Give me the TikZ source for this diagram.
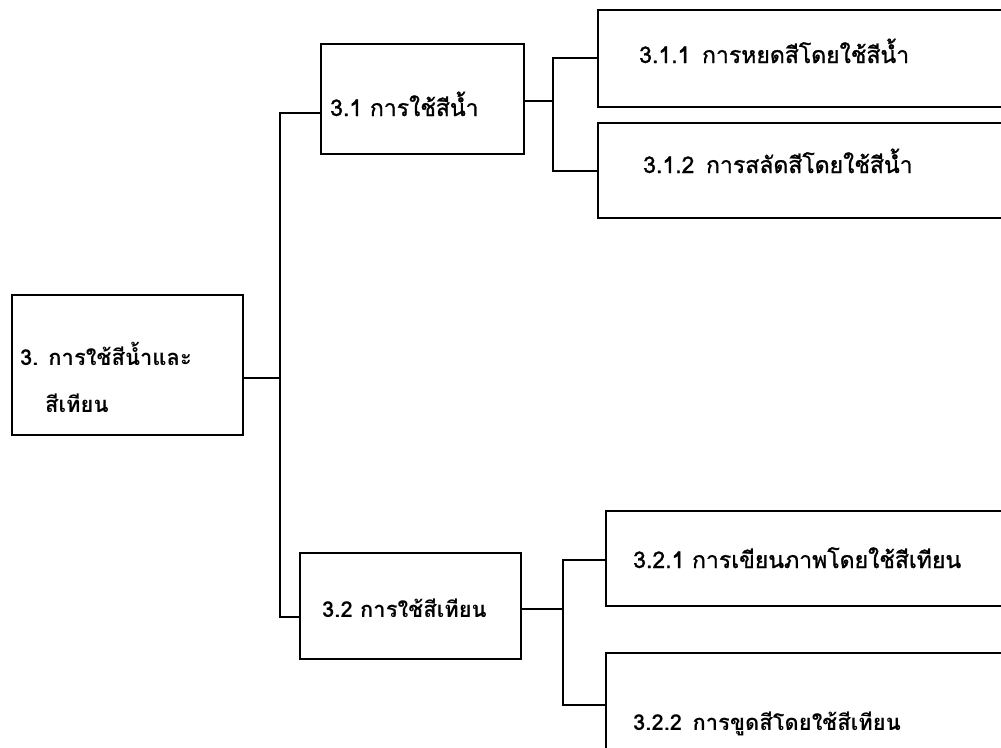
\documentclass[tikz,border=0pt]{standalone}
\usepackage{fontspec}
\setmainfont[Script=Thai]{Loma}
\newfontfamily\medfont[Script=Thai, FakeBold=1.2]{Loma}
\usetikzlibrary{positioning}

\begin{document}
\begin{tikzpicture}[
  x=1pt, y=-1pt,
  every node/.style={font=\fontsize{23}{27}\selectfont\medfont},
  box/.style={
    rectangle, draw=black, line width=2pt, inner sep=0pt
  },
  lbl/.style={anchor=base west, inner sep=0pt},
  bold/.style={font=\fontsize{22}{26}\selectfont\bfseries},
  link/.style={line width=2pt}
]
\useasboundingbox (0,0) rectangle (1001,747);
\clip (0,0) rectangle (1001,747);

% boxes
\node[box, minimum width=231, minimum height=140] (root) at (127.5,365) {};
\node[box, minimum width=203, minimum height=110] (s1) at (422.5,99) {};
\node[box, minimum width=221, minimum height=106] (s2) at (410.5,606) {};
\node[box, minimum width=412, minimum height=97]  (a1) at (804,58.5) {};
\node[box, minimum width=412, minimum height=95]  (a2) at (804,170.5) {};
\node[box, minimum width=404, minimum height=95]  (b1) at (808,558.5) {};
\node[box, minimum width=404, minimum height=140] (b2) at (808,723) {};

% labels
\node[lbl, bold] (troota) at (20,365) {3. การใช้สีน้ำและ};
\node[lbl, bold] (trootb) at (45,412) {สีเทียน};
\node[lbl] (ts1) at (330,116) {3.1 การใช้สีน้ำ};
\node[lbl, bold] (ts2) at (322,617) {3.2 การใช้สีเทียน};
\node[lbl] (ta1) at (639,63) {3.1.1\hspace{4pt} การหยดสีโดยใช้สีน้ำ};
\node[lbl] (ta2) at (643,173) {3.1.2\hspace{4pt} การสลัดสีโดยใช้สีน้ำ};
\node[lbl] (tb1) at (633,568) {3.2.1 การเขียนภาพโดยใช้สีเทียน};
\node[lbl, bold] (tb2) at (633,730) {3.2.2\hspace{3pt} การขูดสีโดยใช้สีเทียน};

% connectors
\coordinate (r0) at (280,378);
\coordinate (r1) at (280,113);
\coordinate (r2) at (280,617);
\draw[link] (root.east |- r0) -- (r0);
\draw[link] (s1.west |- r1) -- (r1) -- (r2) -- (s2.west |- r2);

\coordinate (p0) at (553,101);
\coordinate (p1) at (553,58);
\coordinate (p2) at (553,171);
\draw[link] (s1.east |- p0) -- (p0);
\draw[link] (a1.west |- p1) -- (p1) -- (p2) -- (a2.west |- p2);

\coordinate (q0) at (563,609);
\coordinate (q1) at (563,560);
\coordinate (q2) at (563,705);
\draw[link] (s2.east |- q0) -- (q0);
\draw[link] (b1.west |- q1) -- (q1) -- (q2) -- (b2.west |- q2);

\end{tikzpicture}
\end{document}
